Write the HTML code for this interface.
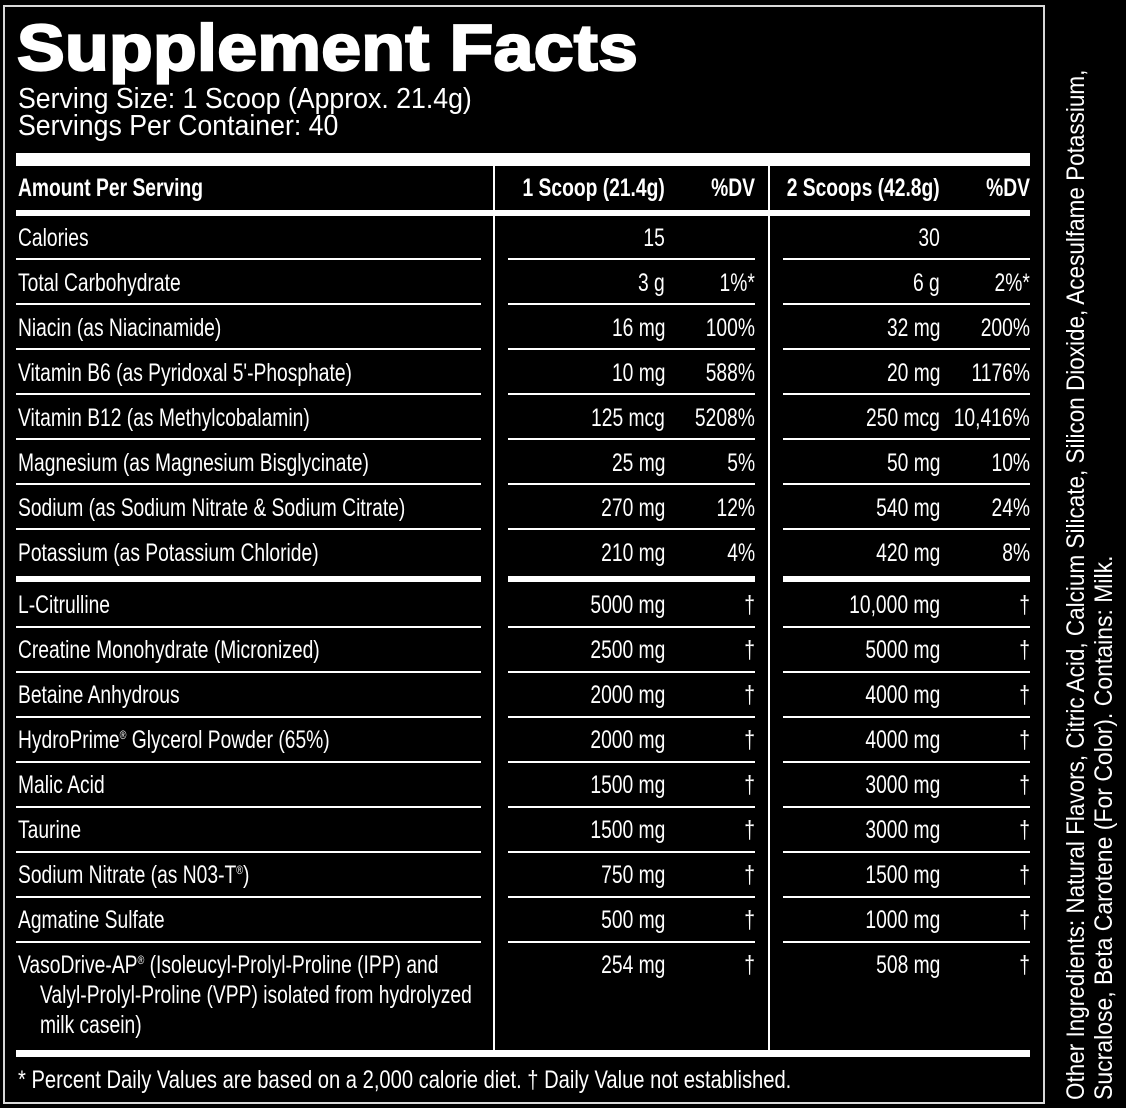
<!DOCTYPE html>
<html><head><meta charset="utf-8">
<style>
html,body{margin:0;padding:0;background:#000;}
body{width:1126px;height:1108px;position:relative;overflow:hidden;font-family:"Liberation Sans",Arial,sans-serif;color:#fff;}
.b{position:absolute;background:#fff;}
.t{position:absolute;white-space:nowrap;font-size:25px;line-height:30px;height:30px;transform:scaleX(0.77);transform-origin:left center;}
.r{transform-origin:right center;text-align:right;}
.h{font-weight:bold;}
sup{font-size:12px;line-height:0;vertical-align:9px;}
.rot{position:absolute;white-space:nowrap;font-size:25px;line-height:28px;height:28px;transform-origin:0 0;}
</style></head><body>

<!-- outer border -->
<div style="position:absolute;left:3px;top:5px;width:1042px;height:1099px;border:2px solid #d9d9d9;box-sizing:border-box;"></div>

<!-- title -->
<div style="position:absolute;left:17px;top:15px;font-size:65px;line-height:65px;font-weight:bold;white-space:nowrap;transform:scaleX(1.1);transform-origin:left center;-webkit-text-stroke:2.2px #fff;letter-spacing:0.3px;">Supplement Facts</div>

<div class="t" style="left:18px;top:84px;font-size:29px;line-height:30px;transform:scaleX(0.92);">Serving Size: 1 Scoop (Approx. 21.4g)</div>
<div class="t" style="left:18px;top:111px;font-size:29px;line-height:30px;transform:scaleX(0.92);">Servings Per Container: 40</div>

<!-- bars -->
<div class="b" style="left:16px;top:153px;width:1014px;height:13px;"></div>
<div class="b" style="left:16px;top:210px;width:1014px;height:6px;"></div>
<div class="b" style="left:16px;top:1050px;width:1014px;height:7px;"></div>

<!-- vertical dividers -->
<div class="b" style="left:493px;top:166px;width:2px;height:884px;"></div>
<div class="b" style="left:768px;top:166px;width:2px;height:884px;"></div>

<!-- header -->
<div class="t h" style="left:18px;top:173px;">Amount Per Serving</div>
<div class="t h r" style="right:461px;top:173px;">1 Scoop (21.4g)</div>
<div class="t h r" style="right:371px;top:173px;">%DV</div>
<div class="t h r" style="right:186px;top:173px;">2 Scoops (42.8g)</div>
<div class="t h r" style="right:96px;top:173px;">%DV</div>

<!-- group 1 lines -->
<div class="b" style="left:16px;top:258px;width:465px;height:2px;"></div><div class="b" style="left:508px;top:258px;width:247px;height:2px;"></div><div class="b" style="left:783px;top:258px;width:247px;height:2px;"></div>
<div class="b" style="left:16px;top:303px;width:465px;height:2px;"></div><div class="b" style="left:508px;top:303px;width:247px;height:2px;"></div><div class="b" style="left:783px;top:303px;width:247px;height:2px;"></div>
<div class="b" style="left:16px;top:348px;width:465px;height:2px;"></div><div class="b" style="left:508px;top:348px;width:247px;height:2px;"></div><div class="b" style="left:783px;top:348px;width:247px;height:2px;"></div>
<div class="b" style="left:16px;top:393px;width:465px;height:2px;"></div><div class="b" style="left:508px;top:393px;width:247px;height:2px;"></div><div class="b" style="left:783px;top:393px;width:247px;height:2px;"></div>
<div class="b" style="left:16px;top:438px;width:465px;height:2px;"></div><div class="b" style="left:508px;top:438px;width:247px;height:2px;"></div><div class="b" style="left:783px;top:438px;width:247px;height:2px;"></div>
<div class="b" style="left:16px;top:483px;width:465px;height:2px;"></div><div class="b" style="left:508px;top:483px;width:247px;height:2px;"></div><div class="b" style="left:783px;top:483px;width:247px;height:2px;"></div>
<div class="b" style="left:16px;top:528px;width:465px;height:2px;"></div><div class="b" style="left:508px;top:528px;width:247px;height:2px;"></div><div class="b" style="left:783px;top:528px;width:247px;height:2px;"></div>
<!-- thick separator -->
<div class="b" style="left:16px;top:576px;width:465px;height:6px;"></div><div class="b" style="left:508px;top:576px;width:247px;height:6px;"></div><div class="b" style="left:783px;top:576px;width:247px;height:6px;"></div>
<!-- group 2 lines -->
<div class="b" style="left:16px;top:626px;width:465px;height:2px;"></div><div class="b" style="left:508px;top:626px;width:247px;height:2px;"></div><div class="b" style="left:783px;top:626px;width:247px;height:2px;"></div>
<div class="b" style="left:16px;top:671px;width:465px;height:2px;"></div><div class="b" style="left:508px;top:671px;width:247px;height:2px;"></div><div class="b" style="left:783px;top:671px;width:247px;height:2px;"></div>
<div class="b" style="left:16px;top:716px;width:465px;height:2px;"></div><div class="b" style="left:508px;top:716px;width:247px;height:2px;"></div><div class="b" style="left:783px;top:716px;width:247px;height:2px;"></div>
<div class="b" style="left:16px;top:761px;width:465px;height:2px;"></div><div class="b" style="left:508px;top:761px;width:247px;height:2px;"></div><div class="b" style="left:783px;top:761px;width:247px;height:2px;"></div>
<div class="b" style="left:16px;top:806px;width:465px;height:2px;"></div><div class="b" style="left:508px;top:806px;width:247px;height:2px;"></div><div class="b" style="left:783px;top:806px;width:247px;height:2px;"></div>
<div class="b" style="left:16px;top:851px;width:465px;height:2px;"></div><div class="b" style="left:508px;top:851px;width:247px;height:2px;"></div><div class="b" style="left:783px;top:851px;width:247px;height:2px;"></div>
<div class="b" style="left:16px;top:896px;width:465px;height:2px;"></div><div class="b" style="left:508px;top:896px;width:247px;height:2px;"></div><div class="b" style="left:783px;top:896px;width:247px;height:2px;"></div>
<div class="b" style="left:16px;top:941px;width:465px;height:2px;"></div><div class="b" style="left:508px;top:941px;width:247px;height:2px;"></div><div class="b" style="left:783px;top:941px;width:247px;height:2px;"></div>

<!-- group 1 rows -->
<div class="t" style="left:18px;top:223px;">Calories</div>
<div class="t r" style="right:461px;top:223px;">15</div>
<div class="t r" style="right:186px;top:223px;">30</div>

<div class="t" style="left:18px;top:268px;">Total Carbohydrate</div>
<div class="t r" style="right:461px;top:268px;">3 g</div>
<div class="t r" style="right:371px;top:268px;">1%*</div>
<div class="t r" style="right:186px;top:268px;">6 g</div>
<div class="t r" style="right:96px;top:268px;">2%*</div>

<div class="t" style="left:18px;top:313px;">Niacin (as Niacinamide)</div>
<div class="t r" style="right:461px;top:313px;">16 mg</div>
<div class="t r" style="right:371px;top:313px;">100%</div>
<div class="t r" style="right:186px;top:313px;">32 mg</div>
<div class="t r" style="right:96px;top:313px;">200%</div>

<div class="t" style="left:18px;top:358px;">Vitamin B6 (as Pyridoxal 5'-Phosphate)</div>
<div class="t r" style="right:461px;top:358px;">10 mg</div>
<div class="t r" style="right:371px;top:358px;">588%</div>
<div class="t r" style="right:186px;top:358px;">20 mg</div>
<div class="t r" style="right:96px;top:358px;">1176%</div>

<div class="t" style="left:18px;top:403px;">Vitamin B12 (as Methylcobalamin)</div>
<div class="t r" style="right:461px;top:403px;">125 mcg</div>
<div class="t r" style="right:371px;top:403px;">5208%</div>
<div class="t r" style="right:186px;top:403px;">250 mcg</div>
<div class="t r" style="right:96px;top:403px;">10,416%</div>

<div class="t" style="left:18px;top:448px;">Magnesium (as Magnesium Bisglycinate)</div>
<div class="t r" style="right:461px;top:448px;">25 mg</div>
<div class="t r" style="right:371px;top:448px;">5%</div>
<div class="t r" style="right:186px;top:448px;">50 mg</div>
<div class="t r" style="right:96px;top:448px;">10%</div>

<div class="t" style="left:18px;top:493px;">Sodium (as Sodium Nitrate &amp; Sodium Citrate)</div>
<div class="t r" style="right:461px;top:493px;">270 mg</div>
<div class="t r" style="right:371px;top:493px;">12%</div>
<div class="t r" style="right:186px;top:493px;">540 mg</div>
<div class="t r" style="right:96px;top:493px;">24%</div>

<div class="t" style="left:18px;top:538px;">Potassium (as Potassium Chloride)</div>
<div class="t r" style="right:461px;top:538px;">210 mg</div>
<div class="t r" style="right:371px;top:538px;">4%</div>
<div class="t r" style="right:186px;top:538px;">420 mg</div>
<div class="t r" style="right:96px;top:538px;">8%</div>

<!-- group 2 rows -->
<div class="t" style="left:18px;top:590px;">L-Citrulline</div>
<div class="t r" style="right:461px;top:590px;">5000 mg</div>
<div class="t r" style="right:371px;top:590px;">†</div>
<div class="t r" style="right:186px;top:590px;">10,000 mg</div>
<div class="t r" style="right:96px;top:590px;">†</div>

<div class="t" style="left:18px;top:635px;">Creatine Monohydrate (Micronized)</div>
<div class="t r" style="right:461px;top:635px;">2500 mg</div>
<div class="t r" style="right:371px;top:635px;">†</div>
<div class="t r" style="right:186px;top:635px;">5000 mg</div>
<div class="t r" style="right:96px;top:635px;">†</div>

<div class="t" style="left:18px;top:680px;">Betaine Anhydrous</div>
<div class="t r" style="right:461px;top:680px;">2000 mg</div>
<div class="t r" style="right:371px;top:680px;">†</div>
<div class="t r" style="right:186px;top:680px;">4000 mg</div>
<div class="t r" style="right:96px;top:680px;">†</div>

<div class="t" style="left:18px;top:725px;">HydroPrime<sup>®</sup> Glycerol Powder (65%)</div>
<div class="t r" style="right:461px;top:725px;">2000 mg</div>
<div class="t r" style="right:371px;top:725px;">†</div>
<div class="t r" style="right:186px;top:725px;">4000 mg</div>
<div class="t r" style="right:96px;top:725px;">†</div>

<div class="t" style="left:18px;top:770px;">Malic Acid</div>
<div class="t r" style="right:461px;top:770px;">1500 mg</div>
<div class="t r" style="right:371px;top:770px;">†</div>
<div class="t r" style="right:186px;top:770px;">3000 mg</div>
<div class="t r" style="right:96px;top:770px;">†</div>

<div class="t" style="left:18px;top:815px;">Taurine</div>
<div class="t r" style="right:461px;top:815px;">1500 mg</div>
<div class="t r" style="right:371px;top:815px;">†</div>
<div class="t r" style="right:186px;top:815px;">3000 mg</div>
<div class="t r" style="right:96px;top:815px;">†</div>

<div class="t" style="left:18px;top:860px;">Sodium Nitrate (as N03-T<sup>®</sup>)</div>
<div class="t r" style="right:461px;top:860px;">750 mg</div>
<div class="t r" style="right:371px;top:860px;">†</div>
<div class="t r" style="right:186px;top:860px;">1500 mg</div>
<div class="t r" style="right:96px;top:860px;">†</div>

<div class="t" style="left:18px;top:905px;">Agmatine Sulfate</div>
<div class="t r" style="right:461px;top:905px;">500 mg</div>
<div class="t r" style="right:371px;top:905px;">†</div>
<div class="t r" style="right:186px;top:905px;">1000 mg</div>
<div class="t r" style="right:96px;top:905px;">†</div>

<div class="t" style="left:18px;top:950px;">VasoDrive-AP<sup>®</sup> (Isoleucyl-Prolyl-Proline (IPP) and</div>
<div class="t" style="left:40px;top:980px;">Valyl-Prolyl-Proline (VPP) isolated from hydrolyzed</div>
<div class="t" style="left:40px;top:1010px;">milk casein)</div>
<div class="t r" style="right:461px;top:950px;">254 mg</div>
<div class="t r" style="right:371px;top:950px;">†</div>
<div class="t r" style="right:186px;top:950px;">508 mg</div>
<div class="t r" style="right:96px;top:950px;">†</div>

<!-- footnote -->
<div class="t" style="left:18px;top:1065px;transform:scaleX(0.806);">* Percent Daily Values are based on a 2,000 calorie diet. † Daily Value not established.</div>

<!-- rotated other ingredients -->
<div class="rot" style="left:1062px;top:1100px;transform:rotate(-90deg) scaleX(0.90);">Other Ingredients: Natural Flavors, Citric Acid, Calcium Silicate, Silicon Dioxide, Acesulfame Potassium,</div>
<div class="rot" style="left:1090px;top:1100px;transform:rotate(-90deg) scaleX(0.92);">Sucralose, Beta Carotene (For Color). Contains: Milk.</div>

</body></html>
